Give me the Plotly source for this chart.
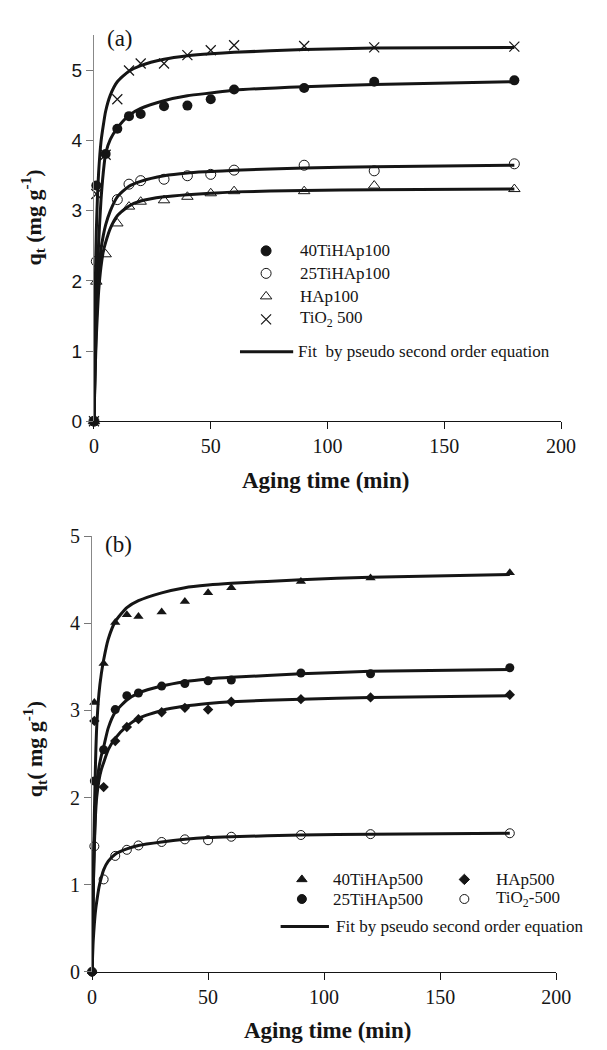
import plotly.graph_objects as go

W, H = 607, 1050
SERIF = "Liberation Serif"
SANS = "Liberation Sans"
INK = "#151515"

# ---------------- data: panel (a) ----------------
t_a = [0, 1, 5, 10, 15, 20, 30, 40, 50, 60, 90, 120, 180]
t_a_25 = [0, 1, 10, 15, 20, 30, 40, 50, 60, 90, 120, 180]
q_40TiHAp100 = [0, 3.36, 3.81, 4.17, 4.35, 4.38, 4.49, 4.50, 4.59, 4.73, 4.75, 4.84, 4.86]
q_25TiHAp100 = [0, 2.28, 3.16, 3.38, 3.43, 3.45, 3.50, 3.52, 3.58, 3.65, 3.57, 3.67]
q_HAp100 = [0, 1.99, 2.38, 2.82, 3.06, 3.13, 3.15, 3.20, 3.25, 3.28, 3.28, 3.36, 3.31]
q_TiO2_500 = [0, 3.24, 3.80, 4.59, 5.00, 5.10, 5.10, 5.22, 5.29, 5.36, 5.35, 5.33, 5.34]

fit_t = [0, 0.5, 1, 1.5, 2, 3, 4, 5, 7, 10, 15, 20, 30, 40, 50, 60, 90, 120, 180]
fit_40TiHAp100 = [0, 0.9, 1.6, 2.1, 2.55, 3.15, 3.55, 3.82, 4.02, 4.18, 4.36, 4.46, 4.57, 4.64, 4.68, 4.72, 4.77, 4.80, 4.84]
fit_25TiHAp100 = [0, 0.8, 1.4, 1.8, 2.1, 2.45, 2.65, 2.8, 3.0, 3.2, 3.35, 3.42, 3.5, 3.54, 3.56, 3.58, 3.61, 3.63, 3.65]
fit_HAp100 = [0, 0.7, 1.2, 1.55, 1.85, 2.2, 2.42, 2.55, 2.75, 2.93, 3.07, 3.14, 3.2, 3.23, 3.25, 3.27, 3.29, 3.3, 3.31]
fit_TiO2_500 = [0, 1.8, 2.7, 3.2, 3.55, 3.98, 4.22, 4.42, 4.65, 4.84, 4.99, 5.07, 5.16, 5.21, 5.24, 5.26, 5.3, 5.32, 5.33]

# ---------------- data: panel (b) ----------------
t_b = [0, 1, 5, 10, 15, 20, 30, 40, 50, 60, 90, 120, 180]
q_40TiHAp500 = [0, 3.09, 3.54, 4.01, 4.10, 4.08, 4.13, 4.25, 4.35, 4.41, 4.48, 4.52, 4.58]
q_25TiHAp500 = [0, 2.19, 2.55, 3.01, 3.17, 3.20, 3.28, 3.31, 3.34, 3.35, 3.43, 3.42, 3.49]
q_HAp500 = [0, 2.88, 2.12, 2.65, 2.81, 2.90, 2.98, 3.03, 3.01, 3.10, 3.13, 3.15, 3.18]
q_TiO2_500b = [0, 1.44, 1.06, 1.33, 1.40, 1.45, 1.49, 1.52, 1.51, 1.55, 1.57, 1.58, 1.59]

fit_40TiHAp500 = [0, 1.0, 1.8, 2.4, 2.8, 3.2, 3.42, 3.58, 3.82, 4.02, 4.18, 4.26, 4.35, 4.41, 4.44, 4.46, 4.5, 4.53, 4.56]
fit_25TiHAp500 = [0, 0.9, 1.5, 1.9, 2.15, 2.35, 2.48, 2.58, 2.8, 2.98, 3.12, 3.2, 3.28, 3.33, 3.36, 3.38, 3.42, 3.45, 3.47]
fit_HAp500 = [0, 0.9, 1.45, 1.8, 2.0, 2.2, 2.32, 2.4, 2.55, 2.68, 2.82, 2.91, 3.0, 3.05, 3.08, 3.1, 3.13, 3.15, 3.17]
fit_TiO2_500b = [0, 0.35, 0.55, 0.7, 0.8, 0.97, 1.08, 1.17, 1.27, 1.35, 1.41, 1.45, 1.49, 1.52, 1.54, 1.55, 1.57, 1.58, 1.59]

x_ticks = [0, 50, 100, 150, 200]
ya_ticks = [0, 1, 2, 3, 4, 5]
yb_ticks = [0, 1, 2, 3, 4, 5]

fig = go.Figure()

def fit_line(x, y, xa, ya):
    fig.add_trace(go.Scatter(x=x, y=y, mode="lines", xaxis=xa, yaxis=ya,
                             line=dict(color=INK, width=3, shape="spline", smoothing=0.6),
                             showlegend=False, hoverinfo="skip", cliponaxis=False))

def pts(x, y, xa, ya, symbol, size, filled=True, lw=1):
    m = dict(symbol=symbol, size=size)
    if filled:
        m.update(color=INK, line=dict(width=0))
    else:
        m.update(color=INK, line=dict(color=INK, width=lw))
    fig.add_trace(go.Scatter(x=x, y=y, mode="markers", xaxis=xa, yaxis=ya, marker=m,
                             showlegend=False, cliponaxis=False))

# panel (a)
for f in (fit_40TiHAp100, fit_25TiHAp100, fit_HAp100, fit_TiO2_500):
    fit_line(fit_t, f, "x", "y")
pts(t_a, q_40TiHAp100, "x", "y", "circle", 10)
pts(t_a_25, q_25TiHAp100, "x", "y", "circle-open", 10)
pts(t_a, q_HAp100, "x", "y", "triangle-up-open", 10)
pts(t_a, q_TiO2_500, "x", "y", "x-thin-open", 10, False, 1.2)

# panel (b)
for f in (fit_40TiHAp500, fit_25TiHAp500, fit_HAp500, fit_TiO2_500b):
    fit_line(fit_t, f, "x2", "y2")
pts(t_b, q_40TiHAp500, "x2", "y2", "triangle-up", 9)
pts(t_b, q_25TiHAp500, "x2", "y2", "circle", 9)
pts(t_b, q_HAp500, "x2", "y2", "diamond", 8)
pts(t_b, q_TiO2_500b, "x2", "y2", "circle-open", 9)

# ---------------- legends (drawn on a pixel overlay axis) ----------------
leg_a = [("circle", 10, "40TiHAp100", 245),
         ("circle-open", 10, "25TiHAp100", 268),
         ("triangle-up-open", 10, "HAp100", 291.5),
         ("x-thin-open", 10, "TiO<sub>2</sub> 500", 315)]
for sym, sz, lab, yy in leg_a:
    fig.add_trace(go.Scatter(x=[270], y=[yy], mode="markers", xaxis="x3", yaxis="y3",
                             marker=dict(symbol=sym, size=sz, color=INK, line=dict(color=INK, width=1.2 if "x" in sym else 1)),
                             showlegend=False, hoverinfo="skip"))
    fig.add_annotation(x=303, y=yy, xref="x3", yref="y3", text=lab, showarrow=False,
                       xanchor="left", yanchor="middle", font=dict(family=SERIF, size=17, color=INK))
fig.add_trace(go.Scatter(x=[243, 298], y=[348, 348], mode="lines", xaxis="x3", yaxis="y3",
                         line=dict(color=INK, width=3), showlegend=False, hoverinfo="skip"))
fig.add_annotation(x=301, y=348, xref="x3", yref="y3", text="Fit \u00a0by pseudo second order equation",
                   showarrow=False, xanchor="left", yanchor="middle", font=dict(family=SERIF, size=17, color=INK))

leg_b = [("triangle-up", 9, "40TiHAp500", 307, 337, 887),
         ("circle", 9, "25TiHAp500", 307, 337, 907),
         ("diamond", 8, "HAp500", 475, 506, 887),
         ("circle-open", 9, "TiO<sub>2</sub>-500", 475, 506, 907)]
for sym, sz, lab, mx, tx, yy in leg_b:
    fig.add_trace(go.Scatter(x=[mx], y=[yy], mode="markers", xaxis="x3", yaxis="y3",
                             marker=dict(symbol=sym, size=sz, color=INK, line=dict(color=INK, width=1)),
                             showlegend=False, hoverinfo="skip"))
    fig.add_annotation(x=tx, y=yy, xref="x3", yref="y3", text=lab, showarrow=False,
                       xanchor="left", yanchor="middle", font=dict(family=SERIF, size=17, color=INK))
fig.add_trace(go.Scatter(x=[285, 335], y=[935, 935], mode="lines", xaxis="x3", yaxis="y3",
                         line=dict(color=INK, width=3), showlegend=False, hoverinfo="skip"))
fig.add_annotation(x=340, y=935, xref="x3", yref="y3", text="Fit by pseudo second order equation",
                   showarrow=False, xanchor="left", yanchor="middle", font=dict(family=SERIF, size=17, color=INK))

# panel labels and axis titles
fig.add_annotation(x=119, y=28, xref="x3", yref="y3", text="(a)", showarrow=False,
                   font=dict(family=SERIF, size=23, color=INK))
fig.add_annotation(x=117, y=545, xref="x3", yref="y3", text="(b)", showarrow=False,
                   font=dict(family=SERIF, size=23, color=INK))
fig.add_annotation(x=331, y=480, xref="x3", yref="y3", text="<b>Aging time (min)</b>", showarrow=False,
                   font=dict(family=SERIF, size=23, color=INK))
fig.add_annotation(x=333, y=1041, xref="x3", yref="y3", text="<b>Aging time (min)</b>", showarrow=False,
                   font=dict(family=SERIF, size=23, color=INK))
fig.add_annotation(x=29, y=211, xref="x3", yref="y3", text="<b>q<sub>t</sub> (mg g<sup>-1</sup>)</b>",
                   showarrow=False, textangle=-90, font=dict(family=SERIF, size=22, color=INK))
fig.add_annotation(x=30, y=754, xref="x3", yref="y3", text="<b>q<sub>t</sub>( mg g<sup>-1</sup>)</b>",
                   showarrow=False, textangle=-90, font=dict(family=SERIF, size=22, color=INK))

xcommon = dict(range=[0, 200], tickvals=x_ticks, ticks="outside", ticklen=7, tickcolor=INK,
               showline=True, linecolor=INK, linewidth=1, showgrid=False, zeroline=False,
               tickfont=dict(family=SERIF, size=20, color=INK), fixedrange=True)
fig.update_layout(
    width=W, height=H, margin=dict(l=0, r=0, t=0, b=0),
    font=dict(family=SERIF, color=INK),
    paper_bgcolor="white", plot_bgcolor="rgba(0,0,0,0)", showlegend=False,
    xaxis=dict(domain=[92 / W, 575 / W], anchor="y", **xcommon),
    yaxis=dict(domain=[1 - 419 / H, 1 - 25 / H], anchor="x", range=[0, 5.5], tickvals=ya_ticks,
               ticks="outside", ticklen=7, tickcolor="#777", showline=True, linecolor="#888",
               linewidth=1, showgrid=False, zeroline=False,
               tickfont=dict(family=SANS, size=19, color=INK), fixedrange=True),
    xaxis2=dict(domain=[90 / W, 570 / W], anchor="y2", **xcommon),
    yaxis2=dict(domain=[1 - 981.3 / H, 1 - 536.5 / H], anchor="x2", range=[0, 5], tickvals=yb_ticks,
                ticks="outside", ticklen=7, tickcolor="#777", showline=True, linecolor="#888",
                linewidth=1, showgrid=False, zeroline=False,
                tickfont=dict(family=SERIF, size=20, color=INK), fixedrange=True),
    xaxis3=dict(domain=[0, 1], anchor="y3", range=[0, W], visible=False, fixedrange=True),
    yaxis3=dict(domain=[0, 1], anchor="x3", range=[H, 0], visible=False, fixedrange=True),
)

fig.write_html("out.html")
